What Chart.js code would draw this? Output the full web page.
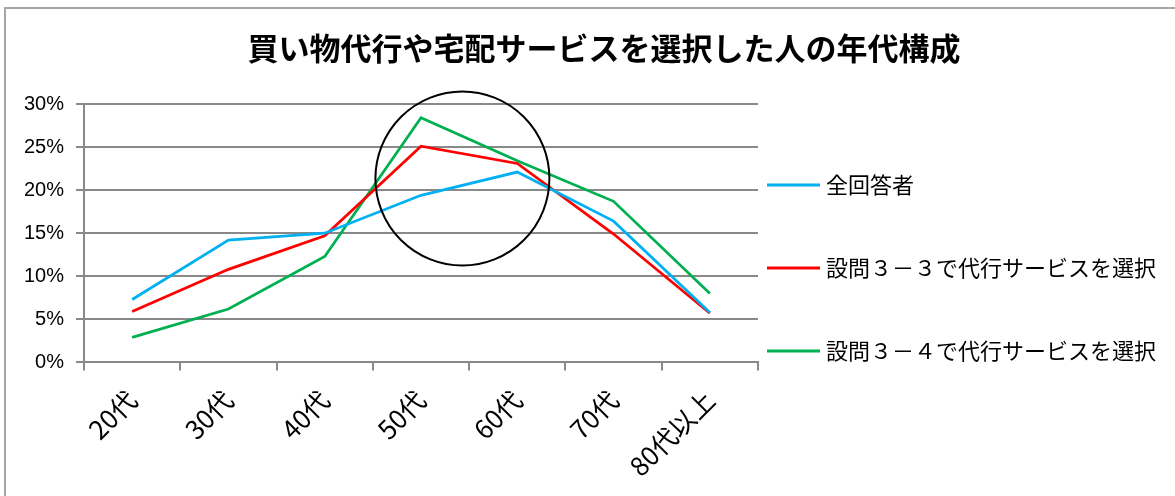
<!DOCTYPE html>
<html>
<head>
<meta charset="utf-8">
<script src="https://cdn.jsdelivr.net/npm/chart.js@4"></script>
<style>
html, body { margin: 0; padding: 0; background: #fff; overflow: hidden; }
#moldura { position: absolute; left: 4px; top: 7px; width: 1300px; height: 600px; border-left: 2px solid #a6a6a6; border-top: 2px solid #a6a6a6; }
#area { position: absolute; left: 0; top: 0; width: 1175px; height: 496px; }
</style>
</head>
<body>
<div id="moldura"></div>
<div id="area"><canvas id="graficoFaixaEtaria"></canvas></div>
<script>
var titulo = '買い物代行や宅配サービスを選択した人の年代構成';
var categorias = ['20代', '30代', '40代', '50代', '60代', '70代', '80代以上'];
var rotulos = ['全回答者', '設問３－３で代行サービスを選択', '設問３－４で代行サービスを選択'];
var todosRespondentes = [7.3, 14.2, 15.0, 19.4, 22.1, 16.4, 5.8];
var pergunta33 = [5.9, 10.8, 14.7, 25.1, 23.1, 14.9, 5.7];
var pergunta34 = [2.9, 6.2, 12.3, 28.4, 23.4, 18.7, 8.0];
var marcasY = [0, 5, 10, 15, 20, 25, 30];

var cinza = '#898989';
var fonteJp = '"Noto Sans CJK JP", "Noto Sans", sans-serif';

// circulo de destaque em volta de 50代-60代 (em unidades das escalas)
var destaque = { indice: 3.43, valor: 21.35, raio: 10.1 };

var circulo = {
	id: 'circulo',
	afterDatasetsDraw: function(chart) {
		var ctx = chart.ctx;
		var x = chart.scales.x.getPixelForValue(destaque.indice);
		var y = chart.scales.y.getPixelForValue(destaque.valor);
		var r = Math.abs(chart.scales.y.getPixelForValue(destaque.valor + destaque.raio) - y);
		ctx.save();
		ctx.strokeStyle = '#000';
		ctx.lineWidth = 2;
		ctx.beginPath();
		ctx.arc(x, y, r, 0, Math.PI * 2);
		ctx.stroke();
		ctx.restore();
	}
};

// titulo centrado na pagina (o do Chart.js fica centrado so no espaco sem a legenda)
var tituloCentral = {
	id: 'tituloCentral',
	afterDraw: function(chart) {
		var ctx = chart.ctx;
		ctx.save();
		ctx.font = 'bold 31px ' + fonteJp;
		ctx.fillStyle = '#000';
		ctx.textAlign = 'center';
		ctx.textBaseline = 'middle';
		ctx.fillText(titulo, 604, 48);
		ctx.restore();
	}
};

var legendaLateral = {
	id: 'legendaLateral',
	afterDraw: function(chart) {
		var ctx = chart.ctx;
		var area = chart.chartArea;
		ctx.save();
		ctx.font = '22px ' + fonteJp;
		ctx.textBaseline = 'middle';
		chart.data.datasets.forEach(function(ds, i) {
			var y = area.top + 81 + i * 83;
			var x = area.right + 9;
			ctx.strokeStyle = ds.borderColor;
			ctx.lineWidth = 3;
			ctx.beginPath();
			ctx.moveTo(x, y);
			ctx.lineTo(x + 53, y);
			ctx.stroke();
			ctx.fillStyle = '#000';
			ctx.fillText(ds.label, x + 59, y);
		});
		ctx.restore();
	}
};

function serie(rotulo, valores, cor) {
	return {
		label: rotulo,
		data: valores,
		borderColor: cor,
		backgroundColor: cor,
		borderWidth: 2.75,
		pointRadius: 0,
		tension: 0,
		fill: false
	};
}

var ctx = document.getElementById('graficoFaixaEtaria').getContext('2d');
var grafico = new Chart(ctx, {
	type: 'line',
	data: {
		labels: categorias,
		datasets: [
			serie(rotulos[0], todosRespondentes, '#00b0f0'),
			serie(rotulos[1], pergunta33, '#ff0000'),
			serie(rotulos[2], pergunta34, '#00b050')
		]
	},
	options: {
		responsive: true,
		maintainAspectRatio: false,
		animation: false,
		layout: { padding: { left: 12, right: 417, bottom: 0, top: 104 } },
		plugins: {
			legend: { display: false },
			tooltip: { enabled: false },
			title: { display: false }
		},
		scales: {
			x: {
				offset: true,
				grid: { offset: true, drawOnChartArea: false, color: cinza, lineWidth: 2, tickLength: 8 },
				border: { color: cinza, width: 2 },
				ticks: { minRotation: 45, maxRotation: 45, color: '#000', padding: 14, font: { family: fonteJp, size: 26 } }
			},
			y: {
				min: 0,
				max: 30,
				afterBuildTicks: function(eixo) {
					eixo.ticks = marcasY.map(function(v) { return { value: v }; });
				},
				grid: { color: cinza, lineWidth: 2, tickLength: 8 },
				border: { color: cinza, width: 2 },
				ticks: {
					color: '#000',
					padding: 12,
					font: { family: '"Liberation Sans", Arial, sans-serif', size: 20 },
					callback: function(v) { return v + '%'; }
				}
			}
		}
	},
	plugins: [circulo, tituloCentral, legendaLateral]
});
</script>
</body>
</html>
